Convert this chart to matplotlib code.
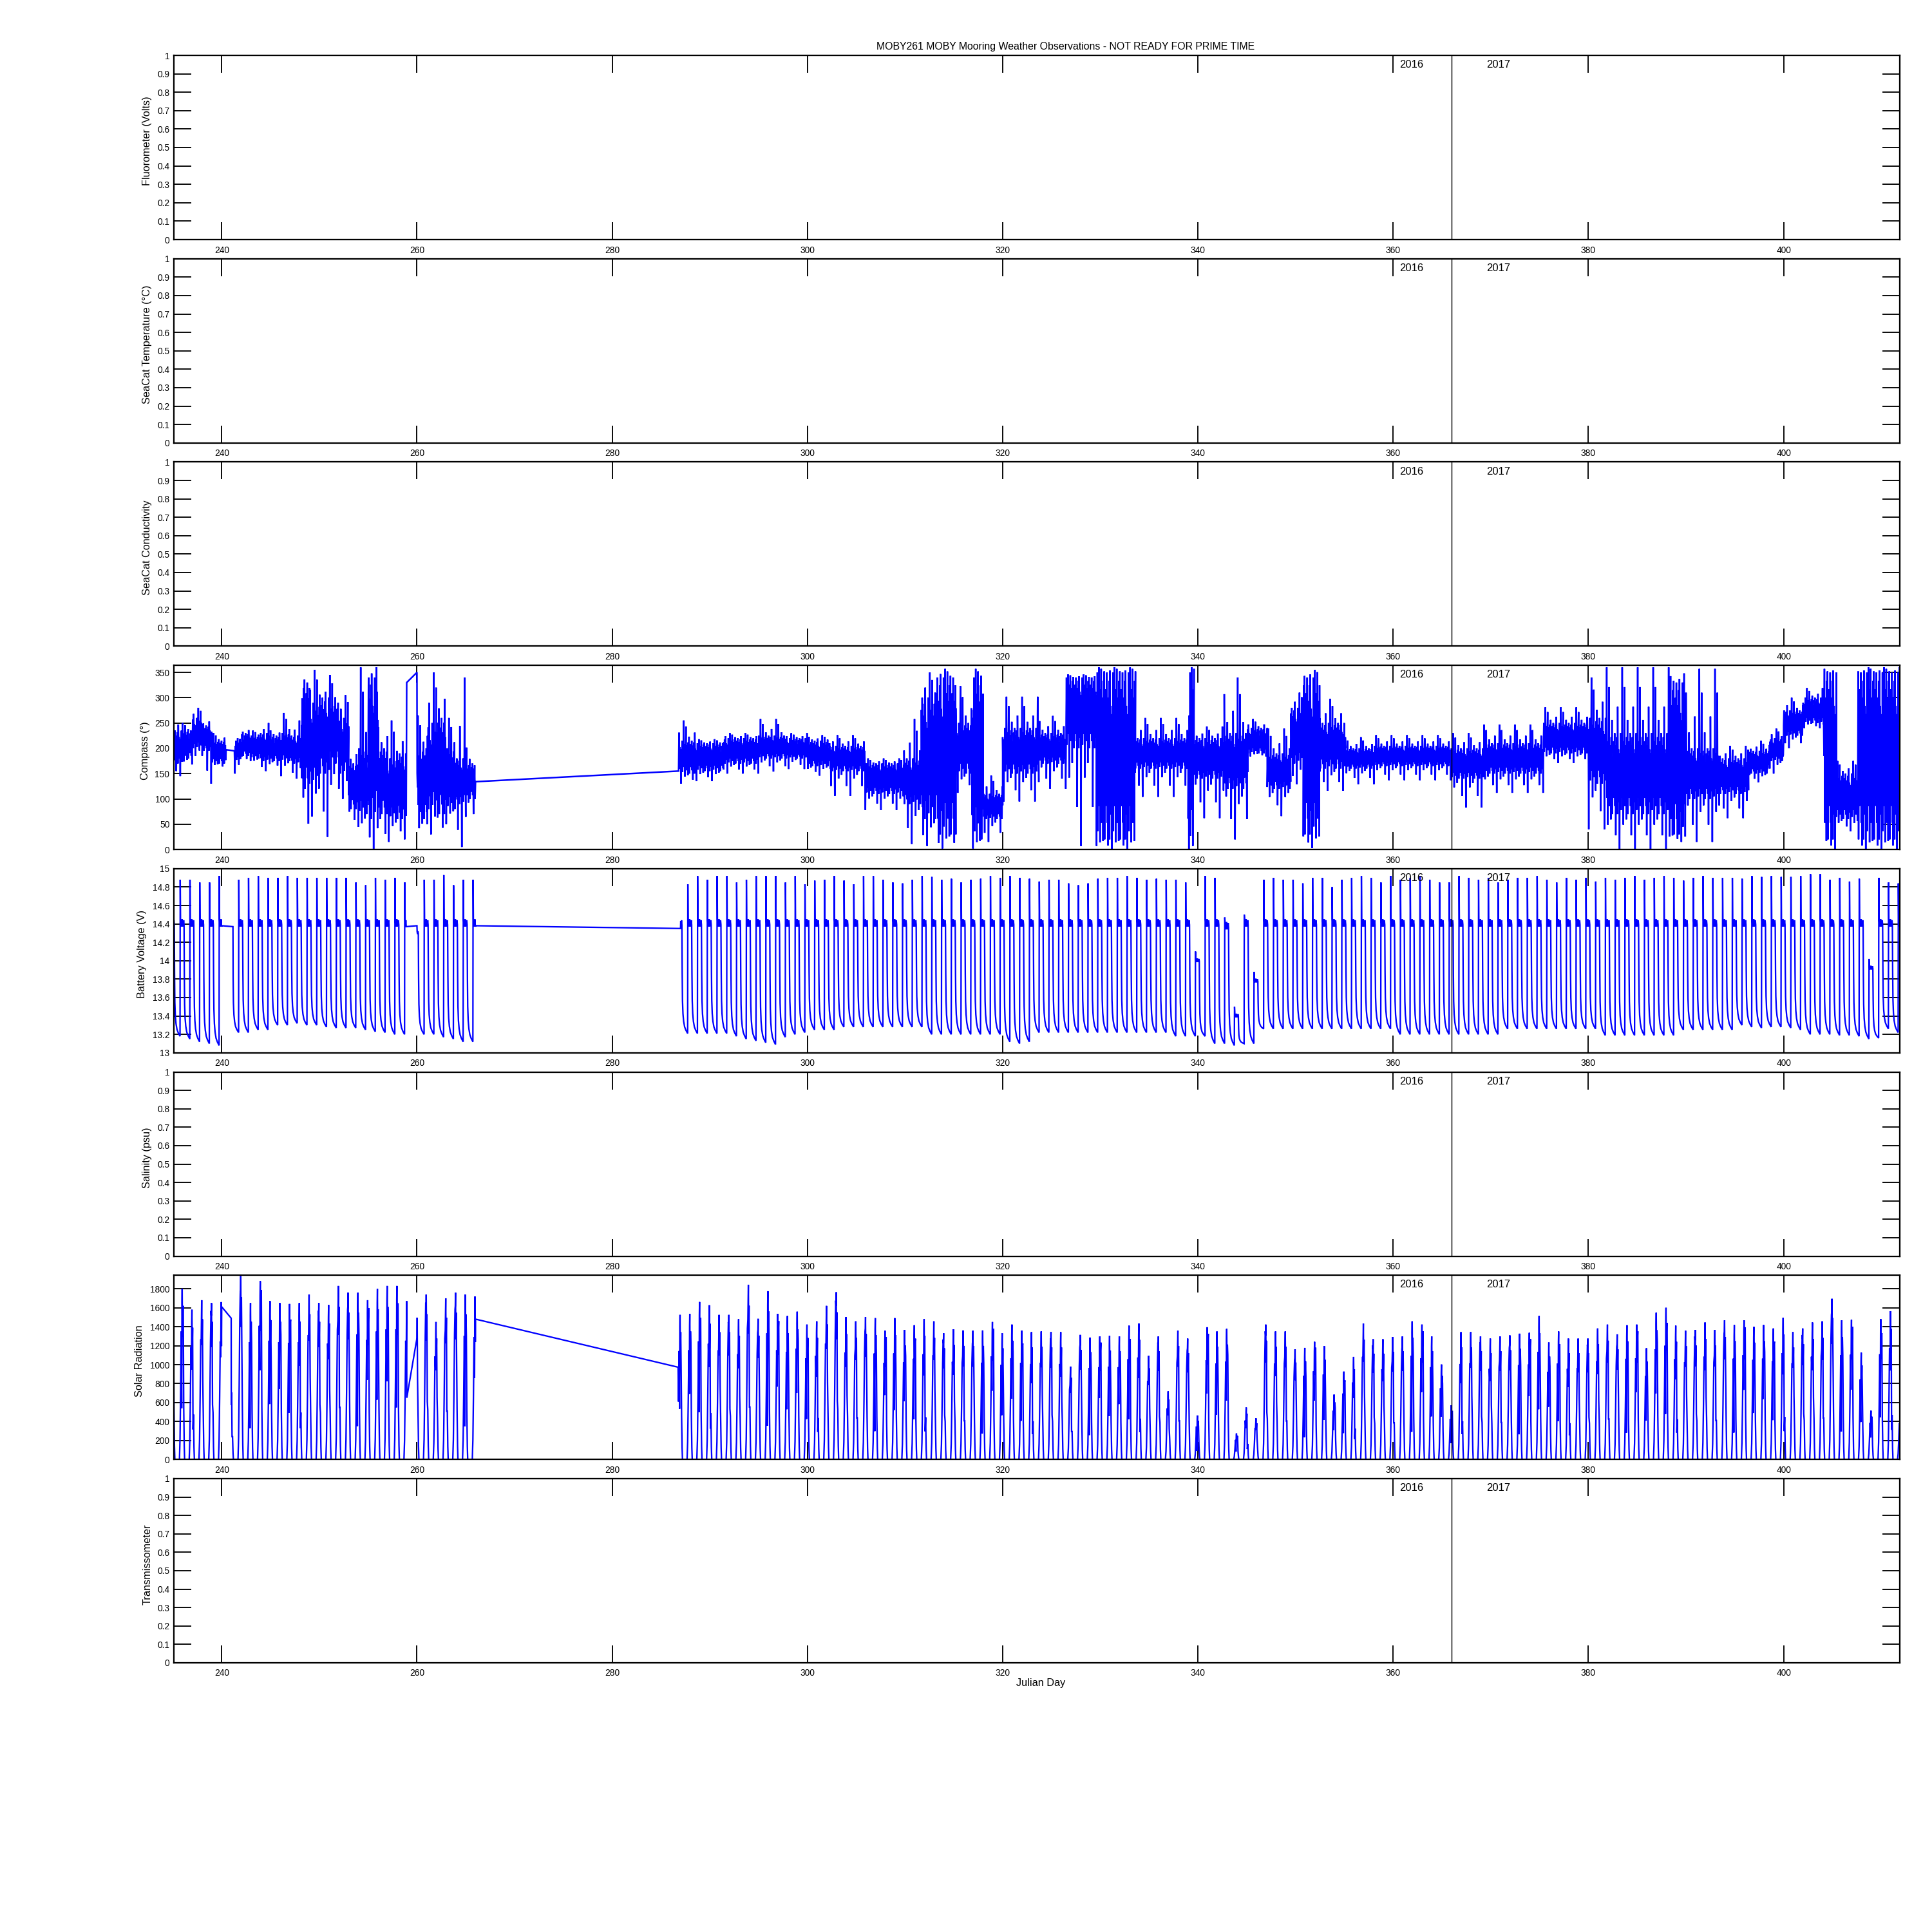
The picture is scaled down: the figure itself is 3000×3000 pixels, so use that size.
import numpy as np
import matplotlib
matplotlib.use("Agg")
import matplotlib.pyplot as plt
from matplotlib import font_manager
from matplotlib.transforms import blended_transform_factory

# ------------------------------------------------------------------ text / axes data
title_text = "MOBY261 MOBY Mooring Weather Observations - NOT READY FOR PRIME TIME"
x_label = "Julian Day"
panel_labels = ["Fluorometer (Volts)", "SeaCat Temperature (\u00b0C)", "SeaCat Conductivity",
                "Compass (\u00b0)", "Battery Voltage (V)", "Salinity (psu)",
                "Solar Radiation", "Transmissometer"]
x_ticks = [240, 260, 280, 300, 320, 340, 360, 380, 400]
x_limits = [235.1, 411.9]
year_boundary_day = 366.0
year_texts = ["2016", "2017"]
year_text_days = [360.66, 369.57]

unit_ticks = [0, 0.1, 0.2, 0.3, 0.4, 0.5, 0.6, 0.7, 0.8, 0.9, 1.0]
unit_tick_labels = ["0", "0.1", "0.2", "0.3", "0.4", "0.5", "0.6", "0.7", "0.8", "0.9", "1"]
compass_ticks = [0, 50, 100, 150, 200, 250, 300, 350]
compass_ylim = [0, 364]
battery_ticks = [13, 13.2, 13.4, 13.6, 13.8, 14, 14.2, 14.4, 14.6, 14.8, 15]
battery_tick_labels = ["13", "13.2", "13.4", "13.6", "13.8", "14", "14.2", "14.4", "14.6", "14.8", "15"]
battery_ylim = [13, 15]
solar_ticks = [0, 200, 400, 600, 800, 1000, 1200, 1400, 1600, 1800]
solar_ylim = [0, 1943]

# ------------------------------------------------------------------ compass (segments)
comp_start = [235.1, 236.0, 237.0, 238.0, 239.0, 241.35, 242.0, 243.0, 244.0, 245.0, 246.0, 247.0,
              248.2, 249.0, 250.0, 251.0, 252.0, 253.0, 254.0, 255.0, 256.0, 257.0, 258.0,
              260.02, 261.0, 262.0, 263.0, 264.0, 265.0,
              286.85, 288.5, 291.4, 295.0, 297.8, 300.0, 302.3, 305.9, 309.9, 311.6, 313.2, 315.2,
              316.8, 318.0, 320.0, 323.7, 326.5, 329.7, 333.6, 339.0, 339.6, 342.7, 345.1, 347.1,
              349.5, 350.8, 352.5, 355.1, 358.1, 365.9, 369.3, 375.4, 380.0, 381.8, 388.3, 390.0,
              393.4, 396.4, 398.5, 400.0, 402.0, 404.1, 405.4, 407.6]
comp_end = [236.0, 237.0, 238.0, 239.0, 240.45, 242.0, 243.0, 244.0, 245.0, 246.0, 247.0, 248.2,
            249.0, 250.0, 251.0, 252.0, 253.0, 254.0, 255.0, 256.0, 257.0, 258.0, 258.9,
            261.0, 262.0, 263.0, 264.0, 265.0, 265.95,
            288.5, 291.4, 295.0, 297.8, 300.0, 302.3, 305.9, 309.9, 311.6, 313.2, 315.2, 316.8,
            318.0, 320.0, 323.7, 326.5, 329.7, 333.6, 339.0, 339.6, 342.7, 345.1, 347.1, 349.5,
            350.8, 352.5, 355.1, 358.1, 365.9, 369.3, 375.4, 380.0, 381.8, 388.3, 390.0, 393.4,
            396.4, 398.5, 400.0, 402.0, 404.1, 405.4, 407.6, 411.95]
comp_core_lo = [170, 180, 200, 195, 170, 175, 185, 180, 175, 175, 175, 170,
                120, 130, 150, 170, 150, 80, 70, 60, 70, 60, 60,
                60, 80, 70, 80, 90, 100,
                150, 155, 170, 180, 180, 165, 155, 110, 90, 60, 30, 150,
                20, 60, 150, 170, 200, 20, 160, 10, 140, 120, 190, 120,
                170, 30, 160, 160, 165, 140, 150, 190, 130, 70, 30, 100,
                110, 150, 175, 225, 250, 20, 60, 20]
comp_core_hi = [235, 235, 260, 245, 215, 215, 230, 225, 230, 225, 230, 225,
                330, 290, 300, 290, 260, 170, 200, 340, 200, 180, 190,
                200, 250, 260, 200, 180, 170,
                215, 210, 220, 225, 220, 215, 205, 170, 180, 300, 340, 250,
                340, 110, 240, 230, 340, 350, 220, 350, 220, 230, 240, 190,
                280, 340, 250, 200, 205, 200, 210, 250, 260, 230, 330, 200,
                180, 195, 220, 275, 300, 350, 150, 350]
comp_spike_lo = [145, 160, 185, 130, 160, 150, 175, 165, 155, 160, 145, 140,
                 5, 65, 25, 30, 100, 45, 10, 0, 5, 15, 20,
                 0, 30, 25, 50, 5, 50,
                 130, 135, 150, 154, 159, 146, 106, 78, 11, 7, 2, 112,
                 2, 15, 95, 120, 7, 0, 104, 0, 62, 20, 184, 66,
                 129, 3, 116, 129, 137, 83, 112, 171, 40, 0, 15, 15,
                 62, 133, 150, 200, 240, 0, 36, 0]
comp_spike_hi = [265, 250, 280, 265, 230, 220, 245, 235, 250, 240, 270, 255,
                 360, 355, 330, 345, 305, 215, 360, 360, 260, 255, 250,
                 265, 350, 355, 260, 340, 215,
                 255, 218, 230, 258, 230, 226, 226, 180, 258, 350, 357, 323,
                 357, 146, 302, 264, 346, 360, 260, 360, 243, 340, 258, 239,
                 310, 355, 298, 222, 226, 230, 247, 281, 340, 360, 348, 357,
                 205, 215, 239, 300, 319, 360, 175, 360]
# points where the compass record breaks (joined by straight lines)
comp_anchor_day = [240.5, 241.3, 258.95, 260.0, 266.0, 286.8]
comp_anchor_val = [197, 195, 330, 350, 134, 155]
# within-band texture (fraction of band, <0 toward low spike, >1 toward high spike)
comp_texture = [0.25, 0.9, 0.4, 1.0, 0.1, 0.7, -0.6, 0.85, 0.3, 0.95, 0.0, 1.4, 0.55, 0.8, 0.15,
                0.6, -1.0, 0.75, 0.35, 1.0, 0.05, 0.65, 0.45, 2.0, 0.2, 0.9, -0.3, 0.7, 0.5,
                1.7, 0.1, 0.85, 0.3, 0.6, -0.15, 0.95, 0.4, 1.2, 0.0, 0.7, 0.2]
comp_samples_per_day = 26

# ------------------------------------------------------------------ battery voltage (daily cycles)
bat_days_a = list(range(235, 267))
bat_peak_a = [14.9, 14.88, 14.88, 14.85, 14.85, 14.92, 14.4, 14.88, 14.9, 14.92, 14.9, 14.9,
              14.92, 14.9, 14.9, 14.9, 14.9, 14.9, 14.9, 14.85, 14.82, 14.9, 14.88, 14.9,
              14.85, 14.4, 14.88, 14.88, 14.93, 14.82, 14.88, 14.88]
bat_min_a = [13.18, 13.15, 13.12, 13.1, 13.08, 13.08, 13.22, 13.22, 13.25, 13.25, 13.3, 13.3,
             13.32, 13.3, 13.3, 13.28, 13.27, 13.27, 13.27, 13.25, 13.23, 13.22, 13.2, 13.2,
             13.2, 13.2, 13.2, 13.17, 13.15, 13.12, 13.12, 13.12]
bat_days_b = list(range(287, 413))
bat_peak_b = [14.9, 14.83, 14.92, 14.88, 14.92, 14.92, 14.85, 14.88, 14.92, 14.92,   # 287-296
              14.92, 14.85, 14.92, 14.83, 14.87, 14.88, 14.92, 14.87, 14.83, 14.92,  # 297-306
              14.92, 14.88, 14.85, 14.84, 14.88, 14.92, 14.91, 14.88, 14.89, 14.85,  # 307-316
              14.88, 14.89, 14.92, 14.9, 14.92, 14.9, 14.89, 14.86, 14.88, 14.88,    # 317-326
              14.84, 14.82, 14.84, 14.89, 14.9, 14.9, 14.92, 14.9, 14.88, 14.89,     # 327-336
              14.88, 14.88, 14.85, 14.1, 14.92, 14.9, 14.47, 13.5, 14.5, 13.88,      # 337-346
              14.88, 14.9, 14.88, 14.88, 14.84, 14.9, 14.9, 14.8, 14.88, 14.9,       # 347-356
              14.92, 14.9, 14.85, 14.92, 14.88, 14.9, 14.92, 14.88, 14.85, 14.85,    # 357-366
              14.92, 14.9, 14.88, 14.9, 14.85, 14.88, 14.9, 14.9, 14.92, 14.88,      # 367-376
              14.85, 14.9, 14.88, 14.9, 14.86, 14.9, 14.88, 14.9, 14.92, 14.88,      # 377-386
              14.9, 14.92, 14.9, 14.87, 14.9, 14.92, 14.9, 14.9, 14.9, 14.89,        # 387-396
              14.92, 14.91, 14.92, 14.91, 14.91, 14.92, 14.94, 14.94, 14.88, 14.9,   # 397-406
              14.86, 14.89, 14.02, 14.9, 14.85, 14.84]                                # 407-412
bat_min_b = [13.21, 13.21, 13.21, 13.21, 13.21, 13.18, 13.15, 13.13, 13.11, 13.09,   # 287-296
             13.17, 13.2, 13.22, 13.25, 13.25, 13.25, 13.28, 13.28, 13.28, 13.28,    # 297-306
             13.28, 13.28, 13.28, 13.28, 13.28, 13.2, 13.2, 13.2, 13.2, 13.2,        # 307-316
             13.2, 13.2, 13.2, 13.12, 13.1, 13.12, 13.22, 13.22, 13.22, 13.22,       # 317-326
             13.22, 13.22, 13.22, 13.22, 13.22, 13.22, 13.22, 13.22, 13.22, 13.22,   # 327-336
             13.18, 13.18, 13.18, 13.18, 13.1, 13.1, 13.08, 13.1, 13.1, 13.26,       # 337-346
             13.26, 13.26, 13.26, 13.26, 13.26, 13.26, 13.26, 13.26, 13.26, 13.26,   # 347-356
             13.26, 13.26, 13.26, 13.2, 13.2, 13.2, 13.2, 13.2, 13.2, 13.2,          # 357-366
             13.2, 13.2, 13.2, 13.2, 13.26, 13.26, 13.26, 13.26, 13.26, 13.26,       # 367-376
             13.26, 13.26, 13.26, 13.26, 13.19, 13.19, 13.19, 13.19, 13.19, 13.19,   # 377-386
             13.19, 13.19, 13.25, 13.25, 13.25, 13.25, 13.25, 13.25, 13.3, 13.28,    # 387-396
             13.27, 13.28, 13.28, 13.27, 13.25, 13.2, 13.2, 13.2, 13.19, 13.19,      # 397-406
             13.18, 13.15, 13.16, 13.26, 13.22, 13.22]                                # 407-412
# typical daily shape: plateau wiggle and night-time decay
bat_plateau_dt = [0.03, 0.07, 0.11, 0.15, 0.19, 0.23, 0.27, 0.31, 0.35, 0.39]
bat_plateau_dv = [0.05, -0.03, 0.04, -0.02, 0.05, -0.03, 0.03, -0.02, 0.04, -0.01]
bat_decay_dt = [0.42, 0.45, 0.50, 0.57, 0.67, 0.80, 0.98]
bat_decay_frac = [0.55, 0.30, 0.18, 0.11, 0.06, 0.03, 0.0]
bat_gap_start = [240.0, 258.9, 266.0]
bat_gap_end = [241.15, 260.0, 287.0]
bat_gap_v0 = [14.38, 14.37, 14.38]
bat_gap_v1 = [14.37, 14.38, 14.35]

# ------------------------------------------------------------------ solar radiation (daily peaks)
sol_days_a = list(range(235, 267))
sol_peak_a = [1800, 1800, 1580, 1680, 1650, 1660, 800, 1943, 1650, 1880, 1670, 1650,
              1640, 1650, 1740, 1650, 1630, 1830, 1760, 1760, 1680, 1800, 1830, 1830,
              1670, 1700, 1740, 1450, 1700, 1760, 1740, 1720]
sol_days_b = list(range(287, 413))
sol_peak_b = [1525, 1536, 1661, 1627, 1525, 1525, 1480, 1843, 1484, 1775,   # 287-296
              1536, 1514, 1559, 1423, 1457, 1620, 1764, 1502, 1457, 1502,   # 297-306
              1491, 1359, 1491, 1366, 1416, 1480, 1457, 1332, 1373, 1361,   # 307-316
              1359, 1361, 1450, 1332, 1423, 1359, 1343, 1350, 1343, 1343,   # 317-326
              980, 1314, 1286, 1298, 1305, 1298, 1411, 1434, 1093, 1298,    # 327-336
              718, 1359, 1275, 464, 1395, 1350, 1377, 275, 548, 434,        # 337-346
              1423, 1350, 1350, 1161, 1177, 1241, 1195, 684, 927, 1082,     # 347-356
              1434, 1268, 1268, 1291, 1298, 1457, 1423, 1298, 1002, 570,    # 357-366
              1343, 1343, 1298, 1275, 1298, 1309, 1327, 1336, 1514, 1234,   # 367-376
              1350, 1275, 1275, 1275, 1382, 1423, 1320, 1416, 1423, 1173,   # 377-386
              1548, 1600, 1411, 1359, 1366, 1445, 1366, 1468, 1418, 1468,   # 387-396
              1400, 1418, 1382, 1495, 1343, 1382, 1445, 1457, 1695, 1468,   # 397-406
              1473, 1127, 514, 1480, 1564, 500]                              # 407-412
# typical daily shape (fraction of the day's peak)
sol_shape_dt = [-0.28, -0.22, -0.16, -0.10, -0.05, -0.02, 0.0, 0.03, 0.07, 0.11, 0.16, 0.21, 0.25]
sol_shape_frac = [0.0, 0.12, 0.4, 0.75, None, 0.92, 1.0, 0.72, 0.88, None, 0.3, 0.08, 0.0]
# cloud dips seen inside the daily spikes (fraction of peak), repeating pattern
sol_dips = [0.45, 0.8, 0.3, 0.9, 0.6, 0.2, 0.75, 0.5, 0.95, 0.35, 0.65]
sol_gap_start = [240.0, 258.96, 266.0]
sol_gap_end = [240.97, 260.0, 286.75]
sol_gap_v0 = [1610, 650, 1480]
sol_gap_v1 = [1490, 1280, 973]

# ------------------------------------------------------------------ build traces
def compass_trace():
    xs, ys, k = [], [], 0
    for s, e, clo, chi, slo, shi in zip(comp_start, comp_end, comp_core_lo, comp_core_hi,
                                         comp_spike_lo, comp_spike_hi):
        n = max(2, int(round((e - s) * comp_samples_per_day)))
        for i in range(n):
            f = comp_texture[k % len(comp_texture)]
            k += 1
            if f < 0:
                v = clo + f * (clo - slo)
            elif f > 1:
                v = chi + (f - 1) * (shi - chi)
            else:
                v = clo + f * (chi - clo)
            xs.append(s + (e - s) * i / (n - 1))
            ys.append(v)
    xs += comp_anchor_day
    ys += comp_anchor_val
    order = np.argsort(xs, kind="stable")
    return np.asarray(xs)[order], np.asarray(ys)[order]


def apply_gaps(xs, ys, g0, g1, v0, v1):
    xs = np.asarray(xs, float)
    ys = np.asarray(ys, float)
    keep = np.ones(len(xs), bool)
    for a, b in zip(g0, g1):
        keep &= ~((xs >= a) & (xs <= b))
    xs = list(xs[keep]) + list(g0) + list(g1)
    ys = list(ys[keep]) + list(v0) + list(v1)
    order = np.argsort(xs, kind="stable")
    return np.asarray(xs)[order], np.asarray(ys)[order]


def battery_trace():
    xs, ys = [], []
    for days, peaks, mins in ((bat_days_a, bat_peak_a, bat_min_a), (bat_days_b, bat_peak_b, bat_min_b)):
        for d, p, m in zip(days, peaks, mins):
            t0 = d - 0.25
            q = min(14.4, p - 0.1)
            xs.append(t0)
            ys.append(p)
            for dt, dv in zip(bat_plateau_dt, bat_plateau_dv):
                xs.append(t0 + dt)
                ys.append(q + dv * (1.0 if p > 14.4 else 0.5))
            for dt, fr in zip(bat_decay_dt, bat_decay_frac):
                xs.append(t0 + dt)
                ys.append(m + fr * (q - m))
    return apply_gaps(xs, ys, bat_gap_start, bat_gap_end, bat_gap_v0, bat_gap_v1)


def solar_trace():
    xs, ys, k = [], [], 0
    for days, peaks in ((sol_days_a, sol_peak_a), (sol_days_b, sol_peak_b)):
        for d, p in zip(days, peaks):
            tp = d - 0.05
            for dt, fr in zip(sol_shape_dt, sol_shape_frac):
                if fr is None:
                    fr = sol_dips[k % len(sol_dips)]
                    k += 1
                xs.append(tp + dt)
                ys.append(p * fr)
    return apply_gaps(xs, ys, sol_gap_start, sol_gap_end, sol_gap_v0, sol_gap_v1)

# ------------------------------------------------------------------ figure
avail = {f.name for f in font_manager.fontManager.ttflist}
fams = [f for f in ["Liberation Sans Narrow", "Liberation Sans", "DejaVu Sans"] if f in avail]
plt.rcParams["font.family"] = fams

W = H = 3000.0
fig = plt.figure(figsize=(10, 10), dpi=300)
fig.patch.set_facecolor("white")

left_px, right_px = 270, 2950
top0_px, pitch_px, height_px = 86, 315.7, 286

line_kw = dict(color=(0, 0, 1), lw=0.55, solid_joinstyle="miter")

axes = []
for i, lab in enumerate(panel_labels):
    top = top0_px + i * pitch_px
    ax = fig.add_axes([left_px / W, 1 - (top + height_px) / H, (right_px - left_px) / W, height_px / H])
    ax.set_xlim(*x_limits)
    ax.set_xticks(x_ticks)
    ax.set_xticklabels([str(t) for t in x_ticks])
    ax.set_axisbelow(True)
    ax.tick_params(axis="both", which="major", direction="in", length=6.5, width=0.45,
                   top=True, right=True, labelsize=3.3, colors="black")
    ax.tick_params(axis="x", pad=2.3)
    ax.tick_params(axis="y", pad=1.6)
    for sp in ax.spines.values():
        sp.set_linewidth(0.55)
    label_x = -0.0125
    if lab.startswith("Compass"):
        x, y = compass_trace()
        ax.plot(x, y, color=(0, 0, 1), lw=0.6, solid_joinstyle="miter")
        ax.set_ylim(*compass_ylim)
        ax.set_yticks(compass_ticks)
        ax.set_yticklabels([str(t) for t in compass_ticks])
        label_x = -0.0138
    elif lab.startswith("Battery"):
        x, y = battery_trace()
        ax.plot(x, y, **line_kw)
        ax.set_ylim(*battery_ylim)
        ax.set_yticks(battery_ticks)
        ax.set_yticklabels(battery_tick_labels)
        label_x = -0.0158
    elif lab.startswith("Solar"):
        x, y = solar_trace()
        ax.plot(x, y, **line_kw)
        ax.set_ylim(*solar_ylim)
        ax.set_yticks(solar_ticks)
        ax.set_yticklabels([str(t) for t in solar_ticks])
        label_x = -0.0172
    else:
        ax.set_ylim(0, 1)
        ax.set_yticks(unit_ticks)
        ax.set_yticklabels(unit_tick_labels)
    ax.axvline(year_boundary_day, color="black", lw=0.35, zorder=3)
    tr = blended_transform_factory(ax.transData, ax.transAxes)
    for txt, d in zip(year_texts, year_text_days):
        ax.text(d, 0.975, txt, transform=tr, ha="left", va="top", fontsize=4.0, zorder=4)
    ax.set_ylabel(lab, fontsize=3.9, labelpad=0)
    ax.yaxis.set_label_coords(label_x, 0.535)
    axes.append(ax)

axes[-1].set_xlabel(x_label, fontsize=3.9)
axes[-1].xaxis.set_label_coords(0.5022, -0.085)

fig.text(1655 / W, 1 - 72 / H, title_text, ha="center", va="center", fontsize=3.8)

fig.savefig("out.png", dpi=300, facecolor="white")
